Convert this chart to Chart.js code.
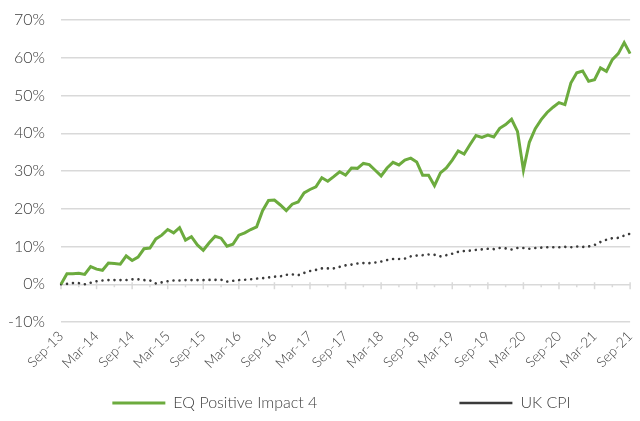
<!DOCTYPE html>
<html>
<head>
<meta charset="utf-8">
<script src="https://cdn.jsdelivr.net/npm/chart.js@4/dist/chart.umd.min.js"></script>
<style>
  body { margin: 0; background: #fff; }
  #wrap { width: 640px; height: 421px; }
</style>
</head>
<body>
<div id="wrap"><canvas id="perfChart"></canvas></div>
<script>
// cumulative return since Sep-13, monthly, in %
var fundName = 'EQ Positive Impact 4';
var cpiName = 'UK CPI';

var fundReturns = [
  0.0, 2.8, 2.8, 2.9, 2.6, 4.7, 4.0, 3.7, 5.6, 5.5, 5.3, 7.5,
  6.3, 7.2, 9.4, 9.6, 12.0, 13.0, 14.5, 13.6, 15.0, 11.7, 12.6, 10.4,
  9.0, 11.0, 12.7, 12.2, 10.1, 10.6, 13.0, 13.6, 14.5, 15.2, 19.5, 22.2,
  22.3, 21.0, 19.5, 21.2, 21.8, 24.2, 25.1, 25.8, 28.2, 27.3, 28.5, 29.8,
  28.9, 30.8, 30.7, 32.0, 31.7, 30.2, 28.7, 30.8, 32.3, 31.6, 32.9, 33.4,
  32.4, 28.9, 28.9, 26.1, 29.5, 30.8, 32.9, 35.3, 34.5, 37.0, 39.4, 38.9,
  39.5, 39.0, 41.3, 42.3, 43.7, 40.5, 30.2, 37.6, 41.2, 43.6, 45.5, 46.9,
  48.1, 47.6, 53.3, 56.0, 56.5, 53.8, 54.2, 57.3, 56.4, 59.5, 61.1, 64.0,
  61.1
];

var cpiReturns = [
  0.0, 0.1, 0.3, 0.3, 0.0, 0.4, 0.8, 1.0, 1.1, 1.1, 1.1, 1.1,
  1.3, 1.3, 1.1, 1.0, 0.2, 0.5, 0.8, 1.0, 1.0, 1.1, 1.1, 1.1,
  1.1, 1.15, 1.15, 1.2, 0.7, 0.9, 1.1, 1.2, 1.3, 1.5, 1.6, 1.8,
  2.0, 2.1, 2.5, 2.6, 2.4, 3.0, 3.5, 3.8, 4.2, 4.2, 4.2, 4.6,
  5.0, 5.2, 5.5, 5.6, 5.6, 5.75, 6.0, 6.4, 6.7, 6.7, 6.8, 7.4,
  7.6, 7.7, 7.9, 7.8, 7.4, 7.7, 8.1, 8.6, 8.8, 8.9, 9.1, 9.25,
  9.4, 9.3, 9.6, 9.5, 9.2, 9.6, 9.6, 9.4, 9.6, 9.7, 9.8, 9.8,
  9.8, 9.9, 9.8, 10.0, 9.9, 10.0, 10.4, 11.2, 11.8, 12.2, 12.3, 12.9,
  13.4
];

var monthNames = ['Jan', 'Feb', 'Mar', 'Apr', 'May', 'Jun', 'Jul', 'Aug', 'Sep', 'Oct', 'Nov', 'Dec'];
var yTicks = [-10, 0, 10, 20, 30, 40, 50, 60, 70];

// Sep-13 .. Sep-21
var months = [];
for (var m = 8; months.length < fundReturns.length; m++) {
  var yr = 13 + Math.floor(m / 12);
  months.push(monthNames[m % 12] + '-' + yr);
}

var font = "'Lato', 'Open Sans', sans-serif";
var textColor = '#404040';
var gridColor = '#d9d9d9';

// small tick marks along the 0% line, every quarter
var zeroAxisTicks = {
  id: 'zeroAxisTicks',
  afterLayout: function(chart) {
    // centre the legend under the plot area rather than the whole canvas
    chart.legend.left = chart.chartArea.left - 8;
    chart.legend.right = chart.chartArea.right;
  },
  beforeDatasetsDraw: function(chart) {
    var ctx = chart.ctx;
    var x = chart.scales.x, y = chart.scales.y;
    var y0 = y.getPixelForValue(0);
    ctx.save();
    ctx.strokeStyle = gridColor;
    ctx.lineWidth = 1.5;
    for (var i = 0; i < months.length; i += 3) {
      var px = x.getPixelForValue(i);
      ctx.beginPath();
      ctx.moveTo(px, y0 - (i % 6 === 0 ? 2 : 0));
      ctx.lineTo(px, y0 + (i % 6 === 0 ? 5 : 3));
      ctx.stroke();
    }
    ctx.restore();
  }
};

var ctx = document.getElementById('perfChart').getContext('2d');
var myChart = new Chart(ctx, {
  type: 'line',
  data: {
    labels: months,
    datasets: [{
      label: fundName + '\u2003\u2003\u2003\u2003\u2003\u2003\u2003\u2003\u2003\u2003\u2003',
      data: fundReturns,
      borderColor: '#6cab3e',
      backgroundColor: '#6cab3e',
      borderWidth: 3,
      pointRadius: 0,
      tension: 0
    }, {
      label: cpiName,
      data: cpiReturns,
      borderColor: '#3b3b3b',
      backgroundColor: '#3b3b3b',
      borderWidth: 2.6,
      borderDash: [0.01, 6],
      borderCapStyle: 'round',
      pointRadius: 0,
      tension: 0
    }]
  },
  options: {
    responsive: true,
    maintainAspectRatio: false,
    animation: false,
    layout: { padding: { top: 20, right: 3, left: 0, bottom: 0 } },
    scales: {
      x: {
        offset: false,
        grid: { display: false },
        border: { display: false },
        afterFit: function(scale) { scale.height = 63; },
        ticks: {
          autoSkip: false,
          minRotation: 45,
          maxRotation: 45,
          padding: -2,
          color: textColor,
          font: { family: font, size: 14, weight: 300 },
          callback: function(value, index) {
            return index % 6 === 0 ? this.getLabelForValue(value) : null;
          }
        }
      },
      y: {
        min: -10,
        max: 70,
        afterFit: function(scale) {
          scale.width = 61;
          // the wide tick padding shouldn't push the plot down
          scale.paddingTop = 10;
          scale.paddingBottom = 10;
        },
        afterBuildTicks: function(scale) {
          scale.ticks = yTicks.map(function(v) { return { value: v }; });
        },
        grid: { color: gridColor, lineWidth: 1.5, drawTicks: false },
        border: { display: false },
        ticks: {
          padding: 16,
          color: textColor,
          font: { family: font, size: 16, weight: 300 },
          callback: function(v) { return v + '%'; }
        }
      }
    },
    plugins: {
      tooltip: { enabled: false },
      legend: {
        position: 'bottom',
        labels: {
          usePointStyle: true,
          pointStyle: 'line',
          pointStyleWidth: 53,
          boxWidth: 53,
          padding: 10,
          color: textColor,
          font: { family: font, size: 16, weight: 300 }
        }
      }
    }
  },
  plugins: [zeroAxisTicks]
});
</script>
</body>
</html>
